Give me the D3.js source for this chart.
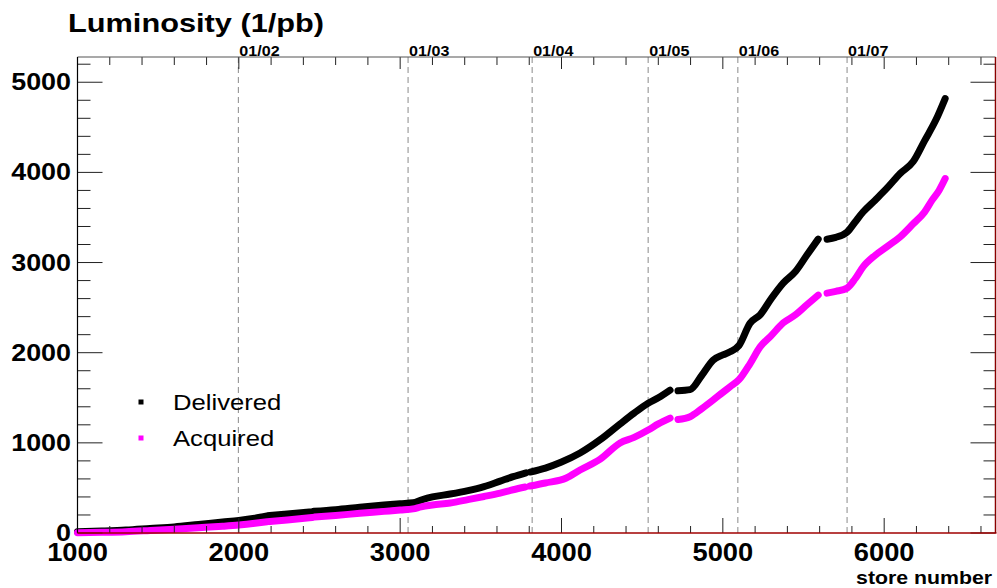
<!DOCTYPE html>
<html>
<head>
<meta charset="utf-8">
<script src="https://cdn.jsdelivr.net/npm/d3@7"></script>
<style>
  html, body { margin: 0; padding: 0; background: #fff; }
  svg { display: block; font-family: "Liberation Sans", Arial, sans-serif; }
</style>
</head>
<body>
<svg id="chart" width="997" height="588"></svg>
<script>
// Integrated luminosity vs. store number; null marks a break in the record.
const deliveredStores = [1000, 1150, 1300, 1450, 1600, 1750, 1900, 2000, 2100, 2175, null, 2190, 2300, 2455, null, 2465, 2600, 2750, 2900, 3000, 3080, 3130, 3200, 3310, 3420, 3520, 3620, 3700, 3780, null, 3805, 3900, 4000, 4115, 4240, 4363, 4450, 4537, 4600, 4673, null, 4722, 4797, 4870, 4940, 5000, 5045, 5100, 5169, 5231, 5300, 5374, 5450, 5520, 5591, null, 5646, 5700, 5770, 5820, 5869, 5944, 6020, 6099, 6180, 6250, 6320, 6378];
const deliveredLumi   = [15, 22, 32, 50, 68, 95, 122, 140, 165, 190, null, 195, 212, 235, null, 240, 258, 285, 310, 325, 335, 365, 400, 432, 470, 515, 576, 625, 668, null, 676, 720, 787, 887, 1035, 1210, 1330, 1440, 1500, 1585, null, 1578, 1590, 1750, 1918, 1975, 2010, 2080, 2328, 2420, 2600, 2772, 2900, 3080, 3260, null, 3259, 3280, 3337, 3450, 3560, 3692, 3830, 3988, 4120, 4350, 4580, 4819];

const acquiredStores = [1000, 1150, 1300, 1450, 1600, 1750, 1900, 2000, 2100, 2175, null, 2190, 2300, 2455, null, 2465, 2600, 2750, 2900, 3000, 3080, 3130, 3200, 3310, 3420, 3520, 3620, 3700, 3775, null, 3805, 3900, 4030, 4115, 4240, 4363, 4450, 4537, 4600, 4673, null, 4722, 4797, 4870, 4940, 5000, 5045, 5100, 5169, 5231, 5300, 5374, 5450, 5520, 5591, null, 5646, 5700, 5770, 5820, 5869, 5944, 6020, 6099, 6180, 6250, 6297, 6340, 6378];
const acquiredLumi   = [3, 8, 15, 28, 42, 58, 75, 89, 108, 125, null, 128, 145, 172, null, 176, 195, 218, 240, 255, 268, 290, 310, 333, 370, 405, 443, 480, 510, null, 521, 555, 610, 698, 820, 998, 1060, 1142, 1210, 1275, null, 1260, 1290, 1380, 1475, 1560, 1622, 1700, 1880, 2065, 2190, 2330, 2420, 2530, 2639, null, 2661, 2680, 2716, 2820, 2952, 3080, 3180, 3285, 3430, 3560, 3692, 3800, 3932];

// First store of each new year
const yearLabels = ["01/02", "01/03", "01/04", "01/05", "01/06", "01/07"];
const yearStores = [1997, 3049, 3818, 4537, 5093, 5770];

const xTickValues = [1000, 2000, 3000, 4000, 5000, 6000];
const yTickValues = [0, 1000, 2000, 3000, 4000, 5000];

const seriesNames = ["Delivered", "Acquired"];
const seriesColors = ["#000000", "#ff00ff"];

const svg = d3.select("#chart");
const frameL = 77.5, frameR = 995.5, frameT = 57, frameB = 533;

const x = d3.scaleLinear().domain([1000, 6690]).range([frameL, frameR]);
const y = d3.scaleLinear().domain([0, 5280]).range([frameB, frameT]);

// Slight horizontal stretch of the lettering
const SX = 1.12;
function stretchedText(g, tx, ty, txt, opts) {
  return g.append("text")
    .attr("transform", `translate(${tx},${ty}) scale(${opts.sx || SX},1)`)
    .attr("font-size", opts.size)
    .attr("font-weight", opts.weight || "bold")
    .attr("text-anchor", opts.anchor || "start")
    .attr("fill", opts.fill || "#000")
    .text(txt);
}

// Year boundary markers
const yearG = svg.append("g");
yearStores.forEach((s, i) => {
  yearG.append("line")
    .attr("x1", x(s)).attr("x2", x(s))
    .attr("y1", frameT).attr("y2", frameB)
    .attr("stroke", "#8a8a8a").attr("stroke-width", 1)
    .attr("stroke-dasharray", "6,4");
  stretchedText(yearG, x(s) + 1, frameT - 1, yearLabels[i], { size: 14, sx: 1.15 });
});

// Curves
function toPoints(stores, lumi) {
  return stores.map((s, i) => ({ s, v: lumi[i] }));
}
const line = d3.line()
  .defined(d => d.s != null && d.v != null)
  .x(d => x(d.s)).y(d => y(d.v))
  .curve(d3.curveMonotoneX);

const series = [toPoints(deliveredStores, deliveredLumi), toPoints(acquiredStores, acquiredLumi)];
series.forEach((pts, i) => {
  svg.append("path")
    .datum(pts)
    .attr("d", line)
    .attr("fill", "none")
    .attr("stroke", seriesColors[i])
    .attr("stroke-width", 7)
    .attr("stroke-linecap", "round")
    .attr("stroke-linejoin", "round");
});

// Axes frame and ticks
const axG = svg.append("g");
const xMinor = d3.range(1000, 6691, 200);
const yMinor = d3.range(0, 5281, 200);

xMinor.forEach(v => {
  const major = v % 1000 === 0;
  axG.append("line").attr("x1", x(v)).attr("x2", x(v))
    .attr("y1", frameB).attr("y2", frameB - (major ? 15 : 7))
    .attr("stroke", "#222").attr("stroke-width", 1);
  axG.append("line").attr("x1", x(v)).attr("x2", x(v))
    .attr("y1", frameT).attr("y2", frameT + (major ? 12 : 8))
    .attr("stroke", "#222").attr("stroke-width", 1);
});
yMinor.forEach(v => {
  const major = v % 1000 === 0;
  axG.append("line").attr("x1", frameL).attr("x2", frameL + (major ? 25 : 13))
    .attr("y1", y(v)).attr("y2", y(v))
    .attr("stroke", "#222").attr("stroke-width", 1);
  axG.append("line").attr("x1", frameR).attr("x2", frameR - (major ? 25 : 12))
    .attr("y1", y(v)).attr("y2", y(v))
    .attr("stroke", "#222").attr("stroke-width", 1);
});

axG.append("line").attr("x1", frameL).attr("x2", frameR).attr("y1", frameT).attr("y2", frameT)
  .attr("stroke", "#555").attr("stroke-width", 1.2);
axG.append("line").attr("x1", frameL).attr("x2", frameL).attr("y1", frameT).attr("y2", frameB)
  .attr("stroke", "#000").attr("stroke-width", 1.2);
axG.append("line").attr("x1", frameL).attr("x2", frameR + 1).attr("y1", frameB).attr("y2", frameB)
  .attr("stroke", "#a00000").attr("stroke-width", 1.5);
axG.append("line").attr("x1", frameR).attr("x2", frameR).attr("y1", frameT).attr("y2", frameB)
  .attr("stroke", "#8b0000").attr("stroke-width", 1.5);

// Tick labels
const labG = svg.append("g");
xTickValues.forEach(v => {
  stretchedText(labG, x(v), 561, String(v), { size: 26, anchor: "middle", sx: 1.05 });
});
yTickValues.forEach(v => {
  stretchedText(labG, 71, y(v) + 8, String(v), { size: 24, anchor: "end" });
});

// Titles
stretchedText(svg, 68, 32, "Luminosity (1/pb)", { size: 26.5, sx: 1.16 });
stretchedText(svg, 992, 584, "store number", { size: 19, anchor: "end" });

// Legend
const legG = svg.append("g");
seriesNames.forEach((name, i) => {
  const ly = 402 + i * 36;
  legG.append("rect")
    .attr("x", 141 - 2.5).attr("y", ly - 2.5)
    .attr("width", 5).attr("height", 5)
    .attr("fill", seriesColors[i]);
  stretchedText(legG, 173, ly + 7.5, name, { size: 22.5, weight: "normal", sx: 1.14 });
});
</script>
</body>
</html>
